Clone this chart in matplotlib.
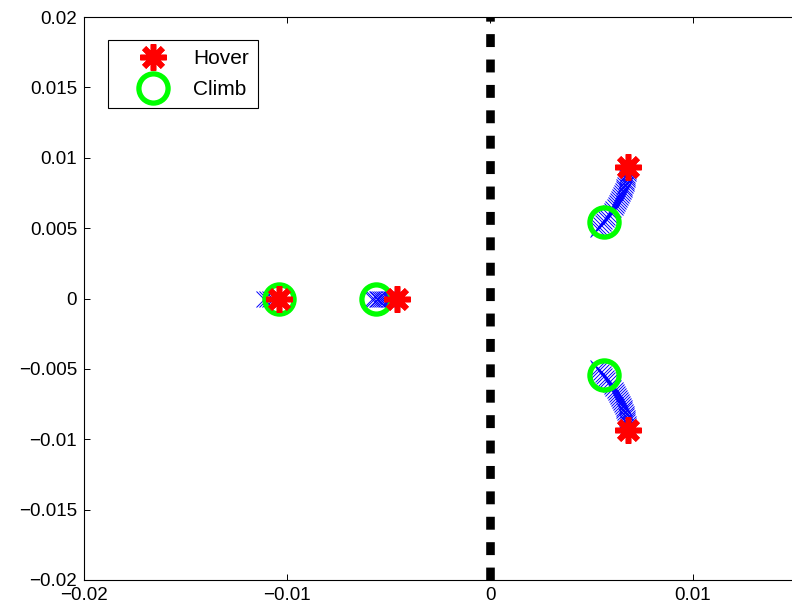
import numpy as np
import matplotlib
matplotlib.use("Agg")
import matplotlib.pyplot as plt
from matplotlib.ticker import FixedLocator, FuncFormatter

# Pole locations at the two flight conditions (real, imaginary)
hover_re = [0.00678, 0.00678, -0.0104, -0.0046]
hover_im = [0.00934, -0.00934, 0.0, 0.0]
climb_re = [0.00564, 0.00564, -0.0104, -0.0056]
climb_im = [0.00544, -0.00544, 0.0, 0.0]

# Intermediate poles traced between the two conditions
upper_re = [0.006807, 0.006797, 0.006782, 0.006767, 0.006748, 0.006728, 0.006703,
            0.006678, 0.006649, 0.006619, 0.006584, 0.006550, 0.006510, 0.006465,
            0.006421, 0.006371, 0.006317, 0.006262, 0.006203, 0.006139, 0.006074,
            0.006005, 0.005936, 0.005861, 0.005787, 0.005708, 0.005629, 0.005550,
            0.005465, 0.005381, 0.005297]
upper_im = [0.009201, 0.009059, 0.008917, 0.008774, 0.008632, 0.008490, 0.008348,
            0.008206, 0.008064, 0.007922, 0.007780, 0.007638, 0.007496, 0.007354,
            0.007211, 0.007069, 0.006927, 0.006785, 0.006643, 0.006501, 0.006359,
            0.006217, 0.006075, 0.005933, 0.005790, 0.005648, 0.005506, 0.005364,
            0.005222, 0.005080, 0.004938]
lower_re = [0.006807, 0.006797, 0.006782, 0.006767, 0.006748, 0.006728, 0.006703,
            0.006678, 0.006649, 0.006619, 0.006584, 0.006550, 0.006510, 0.006465,
            0.006421, 0.006371, 0.006317, 0.006262, 0.006203, 0.006139, 0.006074,
            0.006005, 0.005936, 0.005861, 0.005787, 0.005708, 0.005629, 0.005550,
            0.005465, 0.005381, 0.005297]
lower_im = [-0.009201, -0.009059, -0.008917, -0.008774, -0.008632, -0.008490, -0.008348,
            -0.008206, -0.008064, -0.007922, -0.007780, -0.007638, -0.007496, -0.007354,
            -0.007211, -0.007069, -0.006927, -0.006785, -0.006643, -0.006501, -0.006359,
            -0.006217, -0.006075, -0.005933, -0.005790, -0.005648, -0.005506, -0.005364,
            -0.005222, -0.005080, -0.004938]
real1_re = [-0.01114, -0.01099, -0.01084, -0.01069, -0.01054, -0.01040]
real2_re = [-0.00579, -0.00569, -0.00559, -0.00550, -0.00540, -0.00530, -0.00520,
            -0.00510, -0.00500, -0.00490, -0.00480, -0.00470, -0.00460]

x_ticks = [-0.02, -0.01, 0.0, 0.01]
y_ticks = [-0.02, -0.015, -0.01, -0.005, 0.0, 0.005, 0.01, 0.015, 0.02]
x_limits = (-0.02, 0.02)
y_limits = (-0.02, 0.02)
stability_boundary = 0.0

plt.rcParams["font.family"] = ["Liberation Sans", "DejaVu Sans"]

W, H = 792, 614
fig = plt.figure(figsize=(W / 100, H / 100), dpi=100)
ax = fig.add_axes([84 / W, (H - 580) / H, 812 / W, 563 / H])

# Intermediate poles
bx = dict(linestyle="none", marker="x", color="blue", markersize=12,
          markeredgewidth=0.7, zorder=2)
ax.plot(upper_re, upper_im, **bx)
ax.plot(lower_re, lower_im, **bx)
ax.plot(real1_re, np.zeros(len(real1_re)), **bx)
ax.plot(real2_re, np.zeros(len(real2_re)), **bx)

# Imaginary axis
ax.plot([stability_boundary, stability_boundary], list(y_limits), color="black",
        linewidth=6.2, linestyle=(0, (1.5, 1.45)), dash_capstyle="butt", zorder=1)

ax.plot(climb_re, climb_im, linestyle="none", marker="o", markersize=21,
        markerfacecolor="none", markeredgecolor=(0, 1, 0), markeredgewidth=3.8,
        zorder=3, label="Climb")
ax.plot(hover_re, hover_im, linestyle="none", marker=(8, 2, 0), markersize=19,
        color=(1, 0, 0), markeredgewidth=4.0, zorder=4, label="Hover")

ax.set_xlim(*x_limits)
ax.set_ylim(*y_limits)
ax.xaxis.set_major_locator(FixedLocator(x_ticks))
ax.yaxis.set_major_locator(FixedLocator(y_ticks))
fmt = FuncFormatter(lambda v, p: ("%g" % v).replace("-", "\u2212"))
ax.xaxis.set_major_formatter(fmt)
ax.yaxis.set_major_formatter(fmt)
ax.tick_params(direction="in", top=True, right=True, length=4.5, width=0.7,
               labelsize=13.5, pad=5)
for s in ax.spines.values():
    s.set_linewidth(0.8)

handles, labels = ax.get_legend_handles_labels()
leg = ax.legend(handles[::-1], labels[::-1], loc="upper left",
                bbox_to_anchor=(24 / 812, 1 - 23 / 563), borderaxespad=0,
                fancybox=False, shadow=False, framealpha=1, edgecolor="black",
                fontsize=15, handlelength=3.4, handletextpad=0.24,
                labelspacing=0.55, borderpad=0.45)
leg.get_frame().set_linewidth(0.8)

fig.savefig("out.png", dpi=100)
